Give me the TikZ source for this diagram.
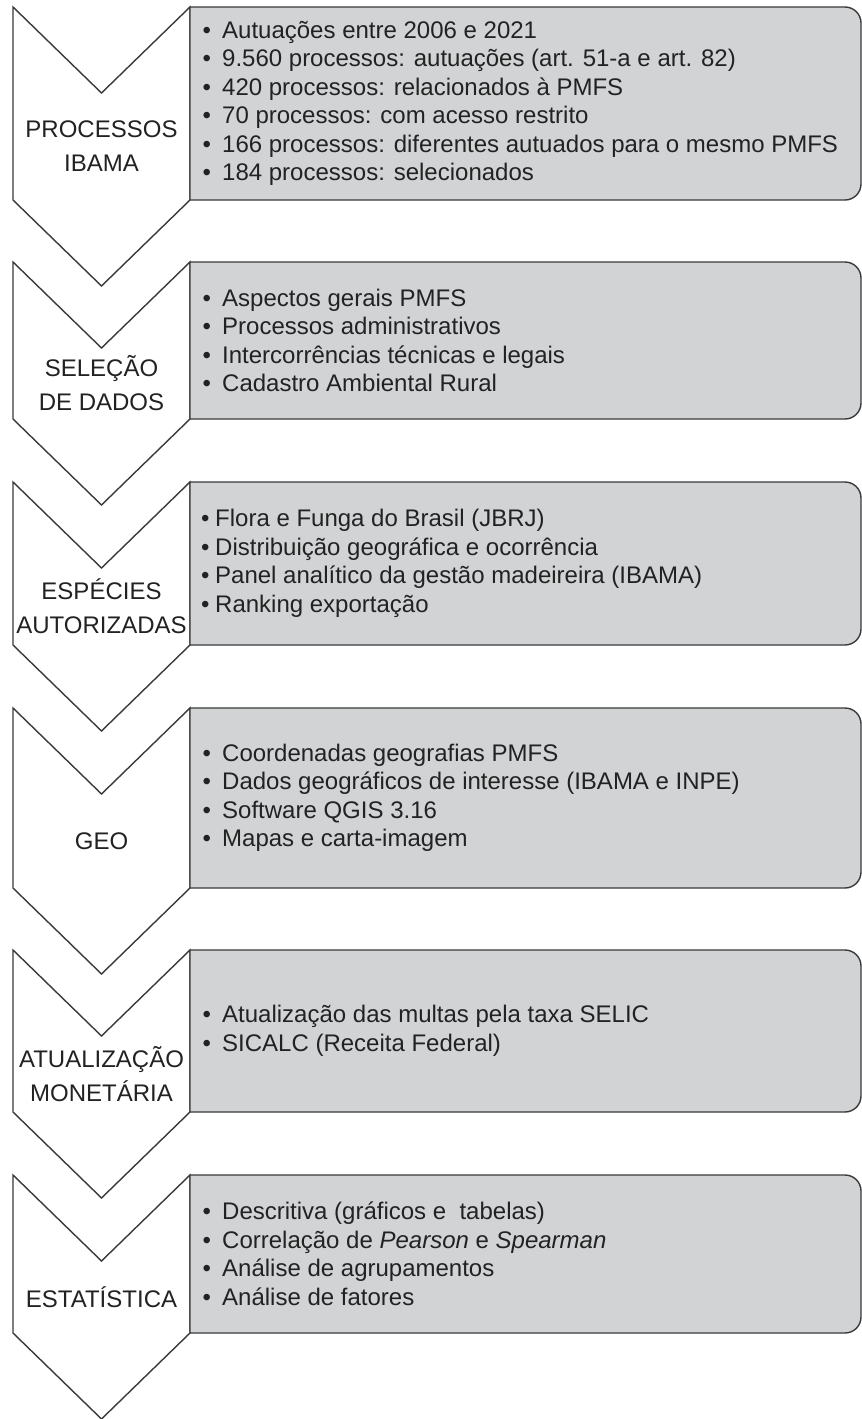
\documentclass[tikz,border=0pt]{standalone}
\usepackage{fontspec}
\setmainfont{Liberation Sans}
\definecolor{boxfill}{HTML}{D1D3D4}
\definecolor{edge}{HTML}{3A3A3A}
\definecolor{txt}{HTML}{222222}
\newcommand{\bu}[1]{\makebox[#1][l]{•}}
\newcommand{\stagebox}[2]{%
  \draw[chev] (13,#1) -- (101.5,{#1+86}) -- (190,#1) -- (190,#2) -- (101.5,{#2+86}) -- (13,#2) -- cycle;
  \draw[panel] (190,#1) -- (845,#1) arc[start angle=90,end angle=0,radius=16pt]
     -- (861,{#2-16}) arc[start angle=0,end angle=-90,radius=16pt] -- (190,#2) -- cycle;
}
\begin{document}
\begin{tikzpicture}[x=1pt,y=-1pt,
  chev/.style={draw=edge,fill=white,line width=1.4pt,line join=miter},
  panel/.style={draw=edge,fill=boxfill,line width=1.4pt},
  lab/.style={align=center,font=\fontsize{24}{34}\selectfont,text=txt,inner sep=0pt},
  items/.style={align=left,anchor=west,font=\fontsize{24}{28.5}\selectfont,text=txt,inner sep=0pt}]
\useasboundingbox (0,0) rectangle (862,1419);
\fill[white] (0,0) rectangle (862,1419);

\stagebox{7}{200}
\stagebox{262}{419}
\stagebox{482}{645}
\stagebox{708}{888}
\stagebox{950}{1112}
\stagebox{1175}{1333}

\node[lab] (l1) at (101.5,146.5) {PROCESSOS\\IBAMA};
\node[lab] (l2) at (101.5,383.5) {SELEÇÃO\\DE DADOS};
\node[lab] (l3) at (101.5,606.5) {ESPÉCIES\\AUTORIZADAS};
\node[lab] (l4) at (101.5,841) {GEO};
\node[lab] (l5) at (101.5,1074) {ATUALIZAÇÃO\\MONETÁRIA};
\node[lab] (l6) at (101.5,1297) {ESTATÍSTICA};

\node[items] (t1) at (202.5,103.5) {%
\bu{19.5pt}Autuações entre 2006 e 2021\\
\bu{19.5pt}9.560 processos: autuações (art. 51-a e art. 82)\\
\bu{19.5pt}420 processos: relacionados à PMFS\\
\bu{19.5pt}70 processos: com acesso restrito\\
\bu{19.5pt}166 processos: diferentes autuados para o mesmo PMFS\\
\bu{19.5pt}184 processos: selecionados};

\node[items] (t2) at (202.5,340.5) {%
\bu{19.5pt}Aspectos gerais PMFS\\
\bu{19.5pt}Processos administrativos\\
\bu{19.5pt}Intercorrências técnicas e legais\\
\bu{19.5pt}Cadastro Ambiental Rural};

\node[items] (t3) at (201,563.5) {%
\bu{14pt}Flora e Funga do Brasil (JBRJ)\\
\bu{14pt}Distribuição geográfica e ocorrência\\
\bu{14pt}Panel analítico da gestão madeireira (IBAMA)\\
\bu{14pt}Ranking exportação};

\node[items] (t4) at (202.5,798) {%
\bu{19.5pt}Coordenadas geografias PMFS\\
\bu{19.5pt}Dados geográficos de interesse (IBAMA e INPE)\\
\bu{19.5pt}Software QGIS 3.16\\
\bu{19.5pt}Mapas e carta-imagem};

\node[items] (t5) at (202.5,1031) {%
\bu{19.5pt}Atualização das multas pela taxa SELIC\\
\bu{19.5pt}SICALC (Receita Federal)};

\node[items] (t6) at (202.5,1254) {%
\bu{19.5pt}Descritiva (gráficos e\ \ tabelas)\\
\bu{19.5pt}Correlação de \textit{Pearson} e \textit{Spearman}\\
\bu{19.5pt}Análise de agrupamentos\\
\bu{19.5pt}Análise de fatores};
\end{tikzpicture}
\end{document}
